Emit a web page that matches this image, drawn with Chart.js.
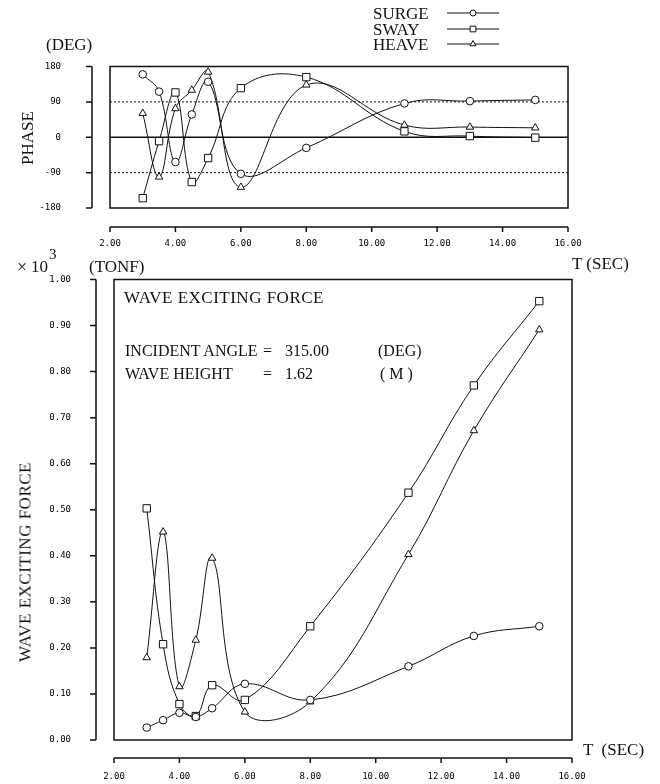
<!DOCTYPE html>
<html>
<head>
<meta charset="utf-8">
<script src="https://cdn.jsdelivr.net/npm/chart.js@4.4.0/dist/chart.umd.min.js"></script>
<style>
  body { margin: 0; background: #fff; }
  #page { position: relative; width: 660px; height: 784px; overflow: hidden; }
  canvas { position: absolute; left: 0; }
  .lbl { position: absolute; font-family: 'Liberation Serif', serif; font-size: 17px; line-height: 1; color: #111; white-space: pre; }
  .in { font-size: 16px; }
  .rot { transform: translate(-50%, -50%) rotate(-90deg); }
</style>
</head>
<body>
<div id="page">
  <canvas id="phase" width="660" height="256" style="top:0"></canvas>
  <canvas id="force" width="660" height="528" style="top:256px"></canvas>

  <div class="lbl" style="left:373px;top:5px">SURGE</div>
  <div class="lbl" style="left:373px;top:21px">SWAY</div>
  <div class="lbl" style="left:373px;top:36px">HEAVE</div>

  <div class="lbl" style="left:46px;top:36px">(DEG)</div>
  <div class="lbl rot" style="left:27px;top:138px">PHASE</div>
  <div class="lbl" style="left:572px;top:255px">T (SEC)</div>

  <div class="lbl" style="left:17px;top:258px;font-size:18px">×</div>
  <div class="lbl" style="left:31px;top:258px">10</div>
  <div class="lbl" style="left:49px;top:247px;font-size:15px">3</div>
  <div class="lbl" style="left:89px;top:258px">(TONF)</div>
  <div class="lbl rot" style="left:25px;top:562px;letter-spacing:0.5px">WAVE EXCITING FORCE</div>
  <div class="lbl" style="left:583px;top:741px">T  (SEC)</div>

  <div class="lbl" style="left:124px;top:289px;letter-spacing:0.5px">WAVE EXCITING FORCE</div>
  <div class="lbl in" style="left:125px;top:343px">INCIDENT ANGLE</div>
  <div class="lbl in" style="left:263px;top:343px">=</div>
  <div class="lbl in" style="left:285px;top:343px">315.00</div>
  <div class="lbl in" style="left:378px;top:343px">(DEG)</div>
  <div class="lbl in" style="left:125px;top:366px">WAVE HEIGHT</div>
  <div class="lbl in" style="left:263px;top:366px">=</div>
  <div class="lbl in" style="left:285px;top:366px">1.62</div>
  <div class="lbl in" style="left:380px;top:366px">( M )</div>
</div>
<script>
// wave period T (sec)
const periods = [3, 3.5, 4, 4.5, 5, 6, 8, 11, 13, 15];

// phase (deg)
const surgePhase = [160, 116, -63, 58, 141, -93, -27, 86, 92, 95];
const swayPhase = [-155, -10, 114, -114, -53, 125, 153, 15, 3, -1];
const heavePhase = [61, -101, 73, 120, 166, -127, 133, 31, 26, 24];

// wave exciting force (x10^3 tonf)
const surgeForce = [0.027, 0.043, 0.059, 0.050, 0.069, 0.122, 0.087, 0.160, 0.226, 0.247];
const swayForce = [0.503, 0.208, 0.078, 0.052, 0.119, 0.087, 0.247, 0.537, 0.770, 0.953];
const heaveForce = [0.179, 0.452, 0.116, 0.217, 0.395, 0.061, 0.083, 0.403, 0.672, 0.891];

const seriesNames = ['SURGE', 'SWAY', 'HEAVE'];
const markers = ['circle', 'rect', 'triangle'];
const markerSize = [3.8, 5.2, 4.3];
const legendSize = [3, 4, 3.5];

const tickFont = { family: 'DejaVu Sans Mono', size: 9 };
const ink = '#111';

function pairs(ys) {
  return periods.map((t, i) => ({ x: t, y: ys[i] }));
}

function makeSets(list) {
  return list.map((ys, i) => ({
    label: seriesNames[i],
    data: pairs(ys),
    borderColor: ink,
    borderWidth: 1,
    tension: 0.4,
    pointStyle: markers[i],
    pointRadius: markerSize[i],
    pointBackgroundColor: '#fff',
    pointBorderColor: ink,
    pointBorderWidth: 1
  }));
}

// box round the plot, offset axes, reference lines
const frame = {
  id: 'frame',
  beforeDatasetsDraw(chart, args, opts) {
    const { ctx, chartArea: a, scales: { x, y } } = chart;
    ctx.save();
    ctx.strokeStyle = ink;
    (opts.refs || []).forEach(r => {
      const py = y.getPixelForValue(r.value);
      ctx.setLineDash(r.dash || []);
      ctx.lineWidth = r.width || 1;
      ctx.beginPath();
      ctx.moveTo(a.left, py);
      ctx.lineTo(a.right, py);
      ctx.stroke();
    });
    ctx.setLineDash([]);
    ctx.lineWidth = 1.5;
    ctx.strokeRect(a.left, a.top, a.width, a.height);

    const ax = a.left - opts.yGap;
    ctx.beginPath();
    ctx.moveTo(ax, y.getPixelForValue(y.max));
    ctx.lineTo(ax, y.getPixelForValue(y.min));
    y.ticks.forEach(t => {
      const py = y.getPixelForValue(t.value);
      ctx.moveTo(ax, py);
      ctx.lineTo(ax - 6, py);
    });
    const ay = a.bottom + opts.xGap;
    ctx.moveTo(x.getPixelForValue(x.min), ay);
    ctx.lineTo(x.getPixelForValue(x.max), ay);
    x.ticks.forEach(t => {
      const px = x.getPixelForValue(t.value);
      ctx.moveTo(px, ay);
      ctx.lineTo(px, ay + 5);
    });
    ctx.stroke();
    ctx.restore();
  },
  afterDraw(chart, args, opts) {
    if (!opts.legend) return;
    const ctx = chart.ctx;
    ctx.save();
    ctx.strokeStyle = ink;
    ctx.fillStyle = '#fff';
    ctx.lineWidth = 1;
    opts.legend.forEach((ly, i) => {
      ctx.beginPath();
      ctx.moveTo(447, ly);
      ctx.lineTo(499, ly);
      ctx.stroke();
      Chart.helpers.drawPoint(ctx, { pointStyle: markers[i], radius: legendSize[i], borderWidth: 1, rotation: 0 }, 473, ly);
    });
    ctx.restore();
  }
};

// labels are pushed off the plot with an invisible tick mark, so the
// scale padding does not eat into the plot area
function hiddenGrid(len) {
  return { display: true, drawOnChartArea: false, drawTicks: true, tickLength: len, tickColor: 'rgba(0,0,0,0)' };
}

function makeOptions(yScale, pad, xHeight, yWidth, xGap, frameOpts) {
  return {
    responsive: false,
    animation: false,
    layout: { padding: pad },
    elements: { line: { capBezierPoints: false } },
    plugins: { legend: { display: false }, tooltip: { enabled: false }, frame: frameOpts },
    scales: {
      x: {
        type: 'linear', min: 2, max: 16,
        grid: hiddenGrid(xGap),
        border: { display: false },
        afterFit(s) { s.height = xHeight; },
        ticks: {
          stepSize: 2, autoSkip: false, maxRotation: 0, padding: 0,
          font: tickFont, color: '#000',
          callback: v => v.toFixed(2)
        }
      },
      y: Object.assign({
        border: { display: false },
        afterFit(s) { s.width = yWidth; }
      }, yScale)
    }
  };
}

new Chart(document.getElementById('phase'), {
  type: 'line',
  data: { datasets: makeSets([surgePhase, swayPhase, heavePhase]) },
  options: makeOptions(
    {
      min: -180, max: 180,
      grid: hiddenGrid(49),
      ticks: { stepSize: 90, padding: 0, font: tickFont, color: '#000', callback: v => String(v) }
    },
    { left: 0, top: 66.5, right: 92, bottom: 0 }, 48, 110, 30,
    {
      yGap: 18, xGap: 19, legend: [13, 29, 44],
      refs: [{ value: 90, dash: [2, 2] }, { value: 0, width: 1.3 }, { value: -90, dash: [2, 2] }]
    }
  ),
  plugins: [frame]
});

new Chart(document.getElementById('force'), {
  type: 'line',
  data: { datasets: makeSets([surgeForce, swayForce, heaveForce]) },
  options: makeOptions(
    {
      min: 0, max: 1,
      grid: hiddenGrid(43),
      ticks: { stepSize: 0.1, padding: 0, font: tickFont, color: '#000', callback: v => v.toFixed(2) }
    },
    { left: 0, top: 23.5, right: 88, bottom: 0 }, 44, 114, 31,
    { yGap: 18, xGap: 18 }
  ),
  plugins: [frame]
});
</script>
</body>
</html>
